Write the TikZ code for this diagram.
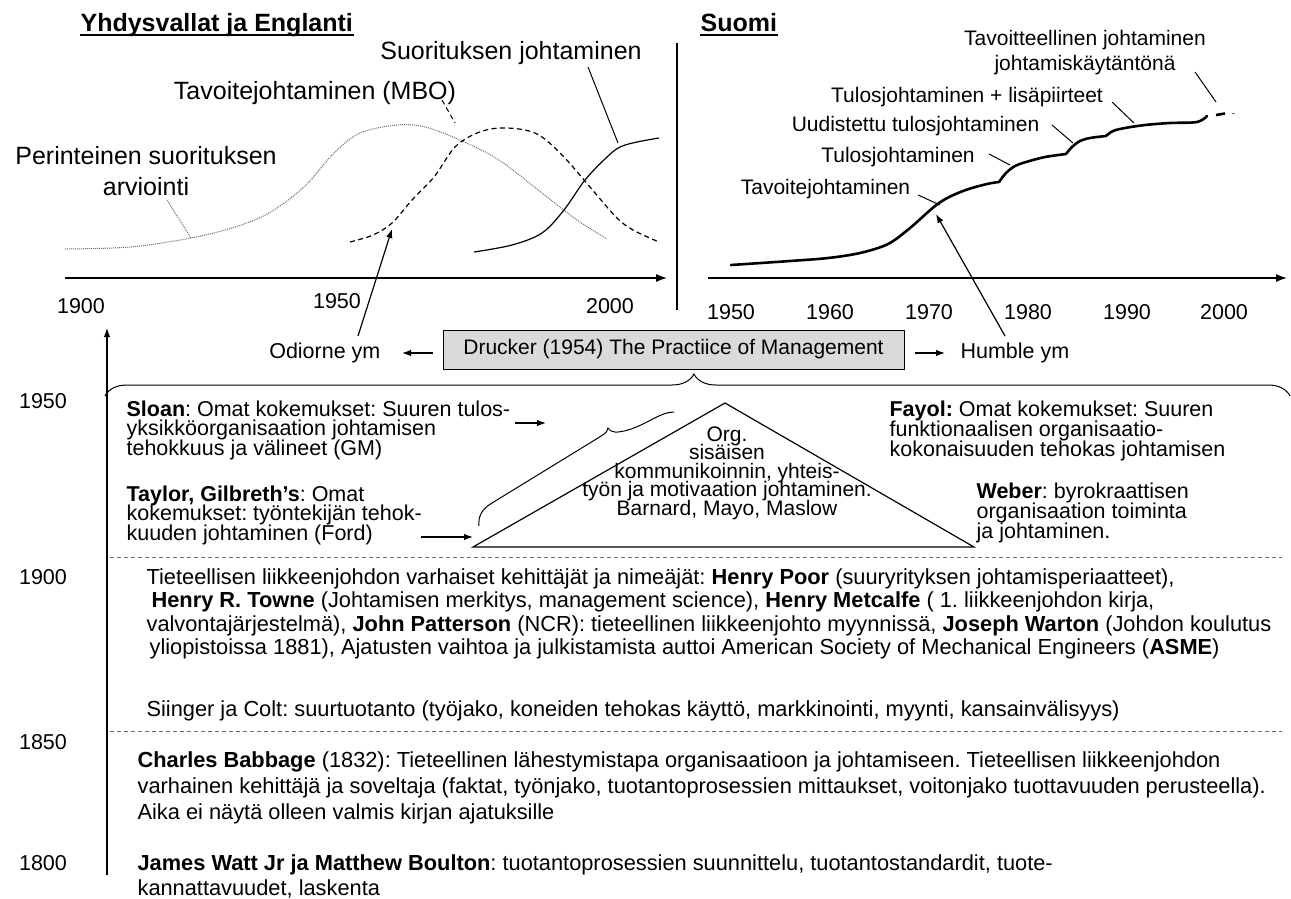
\documentclass[tikz,border=0pt]{standalone}
\usepackage{fontspec}
\setmainfont{Liberation Sans}
\usetikzlibrary{arrows.meta,decorations.pathreplacing}
\definecolor{boxgray}{RGB}{218,218,218}
\definecolor{dotgray}{RGB}{110,110,110}
\newcommand{\tightlines}{\lineskiplimit=-100pt\lineskip=0pt}
\begin{document}
\frenchspacing
\begin{tikzpicture}[x=1pt,y=-1pt,
  line width=1.2pt,
  txt/.style={inner sep=0pt, font=\fontsize{21.5}{24}\selectfont},
  big/.style={inner sep=0pt, font=\fontsize{25}{31}\selectfont\tightlines, align=center},
  small/.style={inner sep=0pt, font=\fontsize{21}{25}\selectfont\tightlines, align=center},
  blk/.style={inner sep=0pt, anchor=north west, align=left},
  title/.style={inner sep=0pt, anchor=base west, font=\fontsize{25}{30}\selectfont\bfseries},
  axis/.style={-{Latex[length=11pt,width=8pt]}},
  arr/.style={-{Latex[length=9pt,width=6.5pt]}},
  dotcurve/.style={dotgray, line width=1pt, dash pattern=on 1pt off 1pt},
  dashcurve/.style={dash pattern=on 5pt off 3.5pt},
  thickcurve/.style={line width=2.6pt, line cap=round, line join=round},
  sepline/.style={line width=1pt, dotgray, dash pattern=on 4pt off 3pt}
]
\useasboundingbox (0,0) rectangle (1291,898);
\fill[white] (0,0) rectangle (1291,898);

% ---------- titles ----------
\node[title] (tUS) at (80,31) {Yhdysvallat ja Englanti};
\draw[line width=1.8pt] ([yshift=-4pt]tUS.base west) -- ([yshift=-4pt]tUS.base east);
\node[title] (tFI) at (700,31) {Suomi};
\draw[line width=1.8pt] ([yshift=-4pt]tFI.base west) -- ([yshift=-4pt]tFI.base east);

% ---------- left chart ----------
\coordinate (axL0) at (65,278);
\coordinate (axL1) at (667,278);
\draw[axis] (axL0) -- (axL1);
\node[txt, anchor=base] (y1900a) at (81,313) {1900};
\node[txt, anchor=base] (y1950a) at (337,308) {1950};
\node[txt, anchor=base] (y2000a) at (610,313) {2000};

\draw[dotcurve] plot[smooth, tension=0.55] coordinates {(65,249) (130,247) (191,238) (235,227) (269,213) (304,187) (334,153) (360,133) (397,125) (425,127) (460,140) (499,160) (542,193) (577,220) (607,239)};
\draw[dashcurve] plot[smooth, tension=0.55] coordinates {(350,242) (373,235) (392,223) (412,200) (434,177) (455,147) (477,133) (499,128) (525,130) (542,137) (564,157) (590,187) (616,217) (633,230) (659,242)};
\draw plot[smooth, tension=0.55] coordinates {(474,252) (512,245) (542,233) (564,210) (585,180) (607,157) (620,147) (637,142) (659,138)};

\node[big, anchor=base] (lSJ) at (511,59) {Suorituksen johtaminen};
\node[big, anchor=base] (lMBO) at (315,99) {Tavoitejohtaminen (MBO)};
\node[big, anchor=north] (lPer) at (146,146) {Perinteinen suorituksen\\arviointi};

\coordinate (pPer0) at (167,200);  \coordinate (pPer1) at (191,238);
\coordinate (pMBO0) at (442,100);  \coordinate (pMBO1) at (455,123);
\coordinate (pSJ0) at (588,67);    \coordinate (pSJ1) at (618,143);
\draw[dotcurve] (pPer0) -- (pPer1);
\draw[dashcurve, line width=1pt] (pMBO0) -- (pMBO1);
\draw[line width=1pt] (pSJ0) -- (pSJ1);

% separator between the two charts
\coordinate (sep0) at (677,43);
\coordinate (sep1) at (677,310);
\draw (sep0) -- (sep1);

% ---------- right chart ----------
\coordinate (axR0) at (708,278);
\coordinate (axR1) at (1287,278);
\draw[axis] (axR0) -- (axR1);
\foreach \yr/\xx in {1950/731,1960/830,1970/929,1980/1028,1990/1127,2000/1224}
  \node[txt, anchor=base] (yr\yr) at (\xx,319) {\yr};

\draw[thickcurve] plot[smooth, tension=0.55] coordinates {(731,265) (790,261) (828,258) (860,253) (888,244) (910,228) (939,203) (963,191) (987,184) (999,182)};
\draw[thickcurve] plot[smooth, tension=0.55] coordinates {(999,182) (1006,173) (1015,166) (1026,162) (1045,157) (1066,154)};
\draw[thickcurve] plot[smooth, tension=0.55] coordinates {(1066,154) (1072,147) (1080,141) (1090,138) (1106,136)};
\draw[thickcurve] plot[smooth, tension=0.55] coordinates {(1106,136) (1113,131) (1125,128) (1145,125) (1170,123) (1197,122) (1207,116)};
\draw[line width=2.6pt] (1216,115) -- (1225,113.5);
\draw[line width=1pt, dotgray] (1232,113) -- (1234.5,113);

\node[small, anchor=north] (lTJ) at (1085,30) {Tavoitteellinen johtaminen\\johtamiskäytäntönä};
\node[small, anchor=base] (lTL) at (967,102.5) {Tulosjohtaminen + lisäpiirteet};
\node[small, anchor=base] (lUT) at (915.5,131.5) {Uudistettu tulosjohtaminen};
\node[small, anchor=base] (lTu) at (898,162.5) {Tulosjohtaminen};
\node[small, anchor=base] (lTa) at (825.5,194.5) {Tavoitejohtaminen};

\coordinate (qTJ0) at (1195,72);  \coordinate (qTJ1) at (1216,102);
\coordinate (qTL0) at (1112,102); \coordinate (qTL1) at (1134,123);
\coordinate (qUT0) at (1052,125); \coordinate (qUT1) at (1073,143);
\coordinate (qTu0) at (989,154);  \coordinate (qTu1) at (1010,165);
\coordinate (qTa0) at (918,195);  \coordinate (qTa1) at (940,205);
\foreach \p in {TJ,TL,UT,Tu,Ta}
  \draw[line width=1pt] (q\p0) -- (q\p1);

% ---------- Drucker and followers ----------
\node[draw, fill=boxgray, line width=1pt, minimum width=461pt, minimum height=39pt, inner sep=0pt,
      font=\fontsize{21}{24}\selectfont] (drucker) at (673.5,349.5) {Drucker (1954) The Practiice of Management};
\node[txt, anchor=east] (odi) at (381,353) {Odiorne ym};
\node[txt, anchor=west] (hum) at (960,353) {Humble ym};
\draw[arr, shorten <=10pt, shorten >=21pt] (odi.east -| drucker.west) -- (odi.east);
\draw[arr, shorten <=10pt, shorten >=15pt] (hum.west -| drucker.east) -- (hum.west);

\coordinate (odiTop) at (358,336);
\coordinate (mboTip) at (392,229);
\draw[arr] (odiTop) -- (mboTip);
\coordinate (humTop) at (1005,336);
\coordinate (fiTip) at (936,214);
\draw[arr] (humTop) -- (fiTip);

% large brace under the Drucker box
\draw[line width=1pt, decorate, decoration={brace, amplitude=22pt, aspect=0.497}] (105,396) -- (1290,396);

% ---------- timeline axis ----------
\coordinate (tl0) at (107,875);
\coordinate (tl1) at (107,328);
\draw[arr] (tl0) -- (tl1);
\node[txt, anchor=base] (t1950) at (43,408) {1950};
\node[txt, anchor=base] (t1900) at (43,584) {1900};
\node[txt, anchor=base] (t1850) at (43,749) {1850};
\node[txt, anchor=base] (t1800) at (43,870) {1800};

% ---------- 1900-1950 band ----------
\draw (473,547) -- (725,403) -- (974,547) -- cycle;
\node[inner sep=0pt, align=center, font=\fontsize{21}{18.5}\selectfont\tightlines] (tri) at (727,473)
  {Org.\\sisäisen\\kommunikoinnin, yhteis-\\työn ja motivaation johtaminen.\\Barnard, Mayo, Maslow};
\draw[line width=1pt] (479,526) .. controls (478,516) and (482,509) .. (492,503) -- (598,438)
  .. controls (604,434) and (607,433) .. (608,428)
  .. controls (611,433) and (617,433) .. (628,430)
  .. controls (648,424) and (660,412) .. (674,412);

\node[blk, font=\fontsize{21.5}{19.5}\selectfont\tightlines] (sloan) at (126,400)
  {\textbf{Sloan}: Omat kokemukset: Suuren tulos-\\yksikköorganisaation johtamisen\\tehokkuus ja välineet (GM)};
\node[blk, font=\fontsize{21.5}{19.5}\selectfont\tightlines] (taylor) at (126,485)
  {\textbf{Taylor, Gilbreth’s}: Omat\\kokemukset: työntekijän tehok-\\kuuden johtaminen (Ford)};
\node[blk, font=\fontsize{21.5}{20}\selectfont\tightlines] (fayol) at (889,400)
  {\textbf{Fayol:} Omat kokemukset: Suuren\\funktionaalisen organisaatio-\\kokonaisuuden tehokas johtamisen};
\node[blk, font=\fontsize{21.5}{20}\selectfont\tightlines] (weber) at (976,482)
  {\textbf{Weber}: byrokraattisen\\organisaation toiminta\\ja johtaminen.};

\coordinate (sl0) at (515,423); \coordinate (sl1) at (546,423);
\draw[arr] (sl0) -- (sl1);
\coordinate (ty0) at (421,537); \coordinate (ty1) at (473,537);
\draw[arr] (ty0) -- (ty1);

\coordinate (d1a) at (110,557); \coordinate (d1b) at (1282,557);
\draw[sepline] (d1a) -- (d1b);

% ---------- 1850-1900 band ----------
\node[blk, font=\fontsize{21.8}{23.5}\selectfont\tightlines] (tiet) at (146,568)
  {Tieteellisen liikkeenjohdon varhaiset kehittäjät ja nimeäjät: \textbf{Henry Poor} (suuryrityksen johtamisperiaatteet),\\
   \hspace*{5pt}\textbf{Henry R. Towne} (Johtamisen merkitys, management science), \textbf{Henry Metcalfe} ( 1. liikkeenjohdon kirja,\\
   valvontajärjestelmä), \textbf{John Patterson} (NCR): tieteellinen liikkeenjohto myynnissä, \textbf{Joseph Warton} (Johdon koulutus\\
   \hspace*{3pt}yliopistoissa 1881), Ajatusten vaihtoa ja julkistamista auttoi American Society of Mechanical Engineers (\textbf{ASME})};
\node[blk, font=\fontsize{21.8}{23.5}\selectfont] (siinger) at (146,700)
  {Siinger ja Colt: suurtuotanto (työjako, koneiden tehokas käyttö, markkinointi, myynti, kansainvälisyys)};

\coordinate (d2a) at (110,731); \coordinate (d2b) at (1282,731);
\draw[sepline] (d2a) -- (d2b);

% ---------- 1800-1850 band ----------
\node[blk, font=\fontsize{21.8}{26}\selectfont\tightlines] (babbage) at (137,751)
  {\textbf{Charles Babbage} (1832): Tieteellinen lähestymistapa organisaatioon ja johtamiseen. Tieteellisen liikkeenjohdon\\
   varhainen kehittäjä ja soveltaja (faktat, työnjako, tuotantoprosessien mittaukset, voitonjako tuottavuuden perusteella).\\
   Aika ei näytä olleen valmis kirjan ajatuksille};
\node[blk, font=\fontsize{21.8}{25}\selectfont\tightlines] (watt) at (137,854)
  {\textbf{James Watt Jr ja Matthew Boulton}: tuotantoprosessien suunnittelu, tuotantostandardit, tuote-\\
   kannattavuudet, laskenta};
\end{tikzpicture}
\end{document}
